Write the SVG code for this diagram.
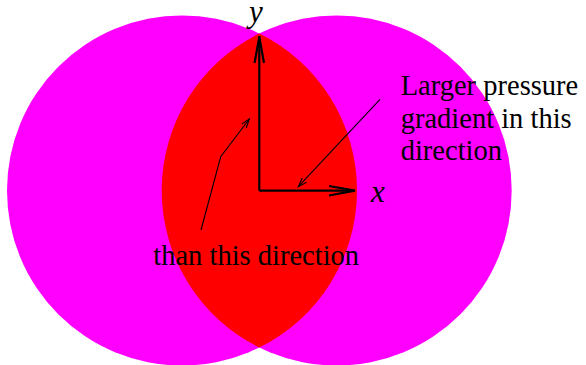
<svg xmlns="http://www.w3.org/2000/svg" width="586" height="365" viewBox="0 0 586 365">
<style>
.txt{font-family:"Liberation Serif","Times New Roman",serif;fill:#000}
.lbl{font-size:28.5px}
.ax{font-size:31px;font-style:italic}
.axis{stroke:#000;stroke-width:2.2;fill:none}
.thin{stroke:#000;stroke-width:1.1;fill:none}
</style>
<defs>
<marker id="ah" markerWidth="12" markerHeight="10" refX="9" refY="4" orient="auto" markerUnits="userSpaceOnUse">
<path d="M0,1 L9,4 L0,7" fill="none" stroke="#000" stroke-width="1.1"/>
</marker>
</defs>
<rect width="586" height="365" fill="#fff"/>
<g id="circle-left"><circle cx="182" cy="190.5" r="175" fill="#ff00ff"/></g>
<g id="circle-right"><circle cx="336.7" cy="190.5" r="175" fill="#ff00ff"/></g>
<g id="lens"><path d="M259.35,33.52 A175,175 0 0 1 259.35,347.48 A175,175 0 0 1 259.35,33.52 Z" fill="#ff0000"/></g>
<g id="connectors">
<path class="axis" d="M259.3,190.7 V36"/>
<path class="axis" d="M254.5,63 L259.3,37 L264,63"/>
<path class="axis" d="M259.3,190.7 H354"/>
<path class="axis" d="M329,186 L355,190.7 L329,195.5"/>
<path class="thin" d="M380,99.3 L298.3,186.7" marker-end="url(#ah)"/>
<path class="thin" d="M201,230 L220.7,156.7 L249.3,119" marker-end="url(#ah)"/>
</g>
<g id="label-y"><text class="txt ax" x="249" y="21.6">y</text></g>
<g id="label-x"><text class="txt ax" x="371" y="201.7">x</text></g>
<g id="label-larger">
<text class="txt lbl" x="400.7" y="95">Larger pressure</text>
<text class="txt lbl" x="400.7" y="127.5">gradient in this</text>
<text class="txt lbl" x="400.7" y="160">direction</text>
</g>
<g id="label-than"><text class="txt lbl" x="153.3" y="265">than this direction</text></g>
</svg>
